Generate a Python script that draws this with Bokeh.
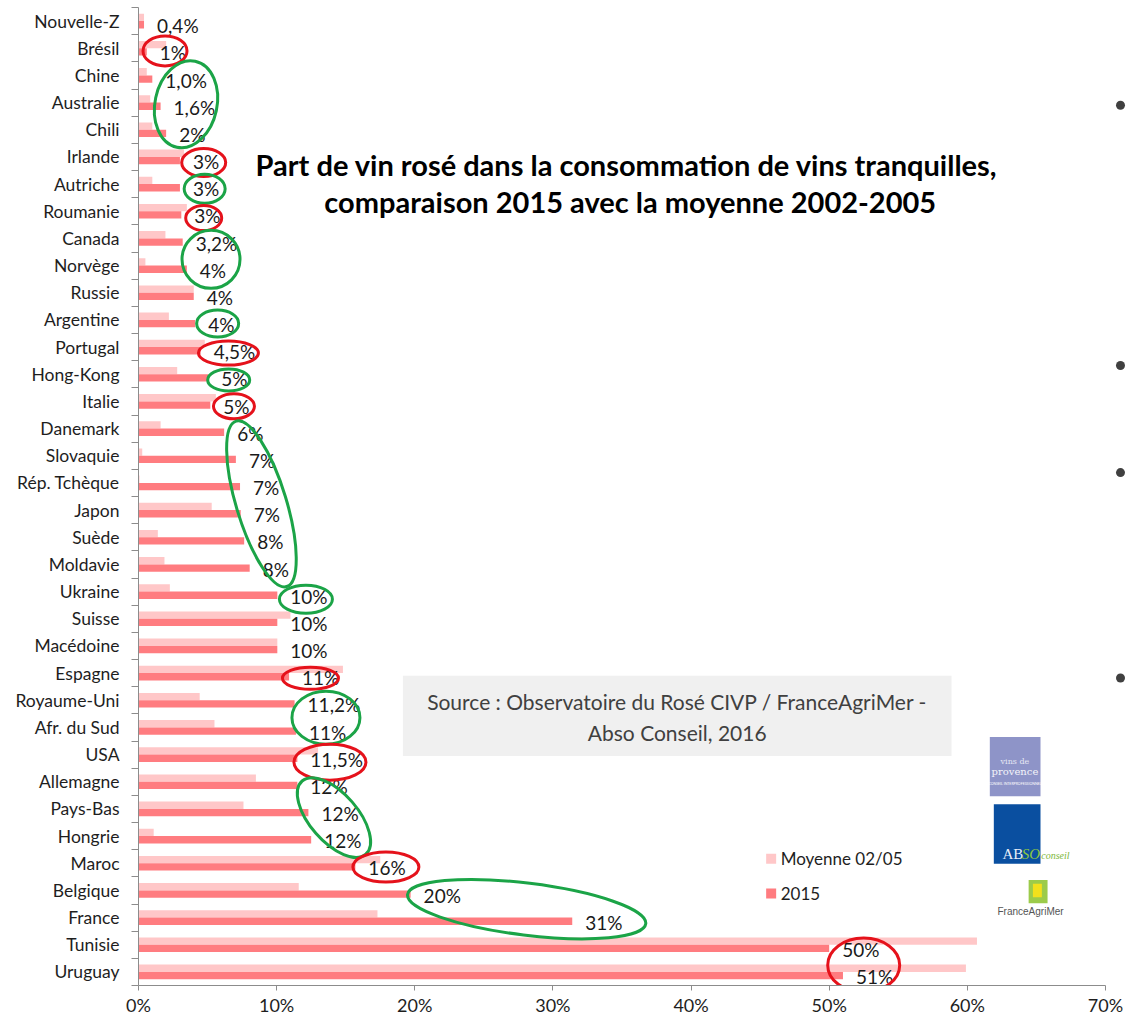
import numpy as np
from bokeh.plotting import figure
from bokeh.models import ColumnDataSource, Range1d, FixedTicker
from bokeh.core.properties import value
from bokeh.transform import dodge
from bokeh.embed import file_html
from bokeh.resources import INLINE

# ---------------- data ----------------
countries = ["Nouvelle-Z", "Brésil", "Chine", "Australie", "Chili", "Irlande", "Autriche",
             "Roumanie", "Canada", "Norvège", "Russie", "Argentine", "Portugal", "Hong-Kong",
             "Italie", "Danemark", "Slovaquie", "Rép. Tchèque", "Japon", "Suède", "Moldavie",
             "Ukraine", "Suisse", "Macédoine", "Espagne", "Royaume-Uni", "Afr. du Sud", "USA",
             "Allemagne", "Pays-Bas", "Hongrie", "Maroc", "Belgique", "France", "Tunisie",
             "Uruguay"]
moyenne_0205 = [0.4, 2.0, 0.6, 0.85, 1.0, 3.3, 1.0, 3.5, 1.95, 0.5, 4.0, 2.2, 4.8, 2.8,
                5.6, 1.6, 0.27, 0.07, 5.3, 1.4, 1.88, 2.27, 11.0, 10.05, 14.8, 4.43, 5.5,
                13.0, 8.5, 7.6, 1.1, 17.5, 11.6, 17.3, 60.7, 59.9]
values_2015 = [0.4, 0.6, 1.0, 1.6, 2.0, 3.0, 3.0, 3.1, 3.2, 3.5, 4.0, 4.1, 4.5, 5.05,
               5.2, 6.2, 7.05, 7.35, 7.4, 7.65, 8.05, 10.05, 10.05, 10.05, 10.9, 11.3, 11.4,
               11.5, 11.5, 12.3, 12.5, 15.7, 19.7, 31.4, 50.0, 51.0]
labels_2015 = ["0,4%", "1%", "1,0%", "1,6%", "2%", "3%", "3%", "3%", "3,2%", "4%", "4%",
               "4%", "4,5%", "5%", "5%", "6%", "7%", "7%", "7%", "8%", "8%", "10%", "10%",
               "10%", "11%", "11,2%", "11%", "11,5%", "12%", "12%", "12%", "16%", "20%",
               "31%", "50%", "51%"]
x_ticks = [0, 10, 20, 30, 40, 50, 60, 70]
x_tick_labels = ["0%", "10%", "20%", "30%", "40%", "50%", "60%", "70%"]
legend_labels = ["Moyenne 02/05", "2015"]
title_lines = ["Part de vin rosé dans la consommation de vins tranquilles,",
               "comparaison 2015 avec la moyenne 2002-2005"]
source_lines = ["Source : Observatoire du Rosé CIVP / FranceAgriMer -",
                "Abso Conseil, 2016"]

# highlight ellipses drawn over the labels (centre in %, row units; size in px)
ell_x = [1.92, 3.44, 4.72, 4.79, 4.72, 5.25, 5.73, 6.51, 6.53, 6.91, 8.90, 12.12,
         12.45, 13.57, 13.86, 14.15, 17.91, 28.1, 52.5]
ell_y = [1.60, 3.56, 5.71, 6.67, 7.75, 9.27, 11.63, 12.72, 13.71, 14.68, 18.27, 21.78,
         24.69, 26.14, 27.78, 29.82, 31.64, 33.19, 35.25]
ell_w = [44, 62, 44, 41, 36, 58, 42, 60, 42, 41, 173, 53, 56, 68, 72, 97, 66, 240, 72]
ell_h = [30, 88, 28, 29, 25, 58, 27, 24, 22, 25, 50, 28, 22, 53, 36, 48, 30, 52, 54]
ell_a = [0, -12, 0, 0, 0, 0, 0, 0, 0, 0, -73, 0, 0, 0, 0, -49, 0, -7, 0]
ell_c = ["red", "green", "red", "green", "red", "green", "green", "red", "green", "red",
         "green", "green", "red", "green", "red", "green", "red", "green", "red"]

FONT = "Lato"
LIGHT = "#FFC7C8"
DARK = "#FF7C80"
RED = "#E5121B"
GREEN = "#1BA447"
AXIS = "#8C8C8C"

n = len(countries)
rows = np.arange(n) + 0.5

p = figure(width=1128, height=1021, x_range=Range1d(0, 71.67), y_range=Range1d(n, 0),
           output_backend="svg", toolbar_location=None,
           min_border_left=138, min_border_right=0, min_border_top=7, min_border_bottom=36)
p.xgrid.visible = False
p.ygrid.visible = False
p.outline_line_color = None
p.background_fill_color = "white"

# y axis (categories)
ya = p.yaxis[0]
ya.ticker = FixedTicker(ticks=list(rows), minor_ticks=list(range(n + 1)))
ya.major_label_overrides = {float(r): c for r, c in zip(rows, countries)}
ya.major_tick_out = 0
ya.major_tick_in = 0
ya.minor_tick_out = 7
ya.minor_tick_in = 0
ya.minor_tick_line_color = AXIS
ya.axis_line_color = AXIS
ya.major_label_standoff = 12
ya.major_label_text_font = FONT
ya.major_label_text_font_size = "17.5px"
ya.major_label_text_color = "#1e1e1e"

# x axis
xa = p.xaxis[0]
xa.ticker = FixedTicker(ticks=x_ticks)
xa.major_label_overrides = {float(t): l for t, l in zip(x_ticks, x_tick_labels)}
xa.bounds = (0, 70)
xa.major_tick_out = 5
xa.major_tick_in = 0
xa.minor_tick_line_color = None
xa.axis_line_color = AXIS
xa.major_tick_line_color = AXIS
xa.major_label_standoff = 3
xa.major_label_text_font = FONT
xa.major_label_text_font_size = "18px"
xa.major_label_text_color = "#1e1e1e"

src = ColumnDataSource(dict(row=rows, moy=moyenne_0205, v15=values_2015, lab=labels_2015))
p.hbar(y=dodge("row", -0.135), left=0, right="moy", height=0.27, fill_color=LIGHT,
       line_color=None, source=src)
p.hbar(y=dodge("row", 0.135), left=0, right="v15", height=0.27, fill_color=DARK,
       line_color=None, source=src)
p.text(x="v15", y=dodge("row", 0.135), text="lab", x_offset=13, y_offset=1,
       text_baseline="middle", text_align="left", text_font=value(FONT),
       text_font_size="19px", text_color="#1a1a1a", source=src)

ell_src = ColumnDataSource(dict(x=ell_x, y=ell_y, w=ell_w, h=ell_h, a=ell_a,
                                c=[RED if c == "red" else GREEN for c in ell_c]))
p.ellipse(x="x", y="y", width="w", height="h", angle="a", angle_units="deg",
          width_units="screen", height_units="screen", fill_color=None,
          line_color="c", line_width=3, source=ell_src)

# title
p.text(x=[35.35, 35.6], y=[5.77, 7.14], text=title_lines, text_align="center",
       text_baseline="middle", text_font=value(FONT), text_font_style="bold",
       text_font_size="29px", text_color="black")

# source box
p.quad(left=[19.14], right=[58.86], top=[24.6], bottom=[27.55], fill_color="#F0F0F0",
       line_color=None)
p.text(x=[39.0, 39.0], y=[25.56, 26.67], text=source_lines, text_align="center",
       text_baseline="middle", text_font=value(FONT), text_font_size="21px",
       text_color="#404040")

# legend
p.scatter(x=[45.8, 45.8], y=[31.33, 32.61], marker="square", size=10,
          fill_color=[LIGHT, DARK], line_color=None)
p.text(x=[46.49, 46.49], y=[31.33, 32.61], text=legend_labels, text_align="left",
       text_baseline="middle", text_font=value(FONT), text_font_size="17px",
       text_color="#1e1e1e")

# logos (approximations)
p.quad(left=[61.63], right=[65.3], top=[26.85], bottom=[29.03], fill_color="#8E94C8",
       line_color=None)
p.text(x=[63.45], y=[27.75], text=["vins de"], text_align="center", text_baseline="middle",
       text_font=value("DejaVu Serif"), text_font_size="8px", text_color="#E6E8F4")
p.text(x=[63.45], y=[28.12], text=["provence"], text_align="center", text_baseline="middle",
       text_font=value("DejaVu Serif"), text_font_size="10px", text_color="#F4F4FA")
p.text(x=[63.45], y=[28.6], text=["CONSEIL INTERPROFESSIONNEL"], text_align="center",
       text_baseline="middle", text_font=value(FONT), text_font_size="3.5px",
       text_color="white")
p.quad(left=[61.92], right=[65.3], top=[29.33], bottom=[31.52], fill_color="#0A4FA0",
       line_color=None)
p.text(x=[62.55], y=[31.15], text=["AB"], text_align="left", text_baseline="middle",
       text_font=value("Liberation Serif"), text_font_size="15px", text_color="#E8EEF8")
p.text(x=[63.95], y=[31.15], text=["SO"], text_align="left", text_baseline="middle",
       text_font=value("Liberation Serif"), text_font_size="15px",
       text_font_style="italic", text_color="#8CC63F")
p.text(x=[65.35], y=[31.2], text=["conseil"], text_align="left", text_baseline="middle",
       text_font=value("Liberation Serif"), text_font_size="10px",
       text_font_style="italic", text_color="#7DB83A")
p.quad(left=[64.44], right=[65.81], top=[32.12], bottom=[32.97], fill_color="#9CCB4A",
       line_color=None)
p.quad(left=[64.75], right=[65.4], top=[32.25], bottom=[32.75], fill_color="#F2E01C",
       line_color=None)
p.text(x=[64.58], y=[33.26], text=["FranceAgriMer"], text_align="center",
       text_baseline="middle", text_font=value("Liberation Sans"),
       text_font_size="10px", text_color="#555555")

# slide bullets on the right edge
p.scatter(x=[71.09] * 4, y=[3.6, 13.18, 17.12, 24.68], size=9, fill_color="#404040",
          line_color=None)

open("out.html", "w").write(file_html(p, INLINE))
